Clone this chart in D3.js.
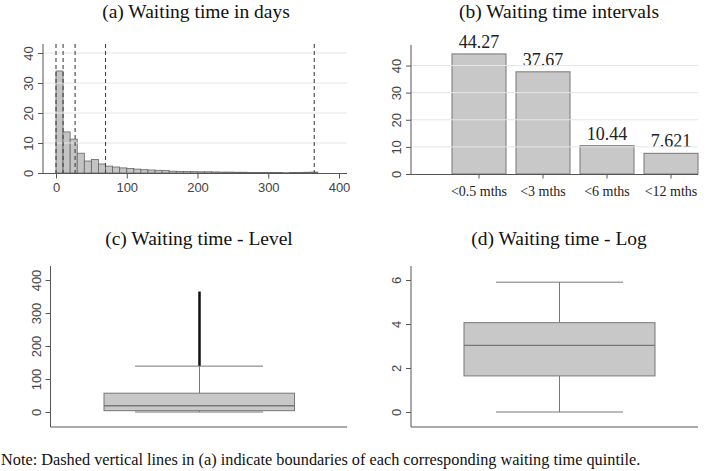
<!DOCTYPE html>
<html><head><meta charset="utf-8">
<script src="https://cdn.jsdelivr.net/npm/d3@7"></script>
<style>body{margin:0;background:#fff}svg{display:block}</style>
</head><body>
<svg id="c" width="709" height="471"></svg>
<script>
// ---- data ----
const histBinStart = [0,10,20,30,40,50,60,70,80,90,100,110,120,130,140,150,160,170,180,190,200,210,220,230,240,250,260,270,280,290,300,310,320,330,340,350,360];
const histPercent  = [34,13.7,11.3,6.6,4.0,4.5,3.0,2.3,2.0,1.7,1.5,1.3,1.1,1.0,0.9,0.8,0.6,0.55,0.5,0.45,0.4,0.4,0.35,0.3,0.3,0.25,0.25,0.2,0.2,0.2,0.15,0.15,0.1,0.15,0.2,0.25,0.3];
const binWidth = 10;
const quintileBounds = [0, 10, 27, 70, 365];
const histXTicks = [0,100,200,300,400];
const histYTicks = [0,10,20,30,40];

const intervalCats = ["<0.5 mths","<3 mths","<6 mths","<12 mths"];
const intervalVals = [44.27, 37.67, 10.44, 7.621];
const intervalLabels = ["44.27","37.67","10.44","7.621"];
const intervalYTicks = [0,10,20,30,40];

const levelBox = {min:0, q1:4, median:19, q3:57, max:139};
const levelOutlierRange = [140, 365];
const levelYTicks = [0,100,200,300,400];

const logBox = {min:0, q1:1.64, median:3.03, q3:4.06, max:5.9};
const logYTicks = [0,2,4,6];

// ---- drawing ----
const svg = d3.select("#c");
const serif = "'Liberation Serif','Times New Roman',serif";
const sans = "'Liberation Sans',Arial,sans-serif";
const axisCol = "#555";
const gridCol = "#e6e6e6";

function title(x, y, t){
  svg.append("text").attr("x",x).attr("y",y).attr("text-anchor","middle")
    .attr("font-family",serif).attr("font-size",19.5).attr("fill","#111").text(t);
}
function yAxis(g, y, ticks, x0){
  const ax = d3.axisLeft(y).tickValues(ticks).tickSize(5).tickSizeOuter(0).tickFormat(d3.format("d"));
  const a = g.append("g").attr("transform",`translate(${x0},0)`).call(ax);
  a.select(".domain").remove();
  a.selectAll("line").attr("stroke",axisCol);
  a.selectAll("text").attr("font-family",sans).attr("font-size",13).attr("fill","#444")
    .attr("transform","rotate(-90)").attr("text-anchor","middle")
    .attr("x", 0).attr("y", -10).attr("dy","0");
  return a;
}
function line(x1,y1,x2,y2,col,w,dash){
  const l = svg.append("line").attr("x1",x1).attr("y1",y1).attr("x2",x2).attr("y2",y2)
    .attr("stroke",col).attr("stroke-width",w||1);
  if(dash) l.attr("stroke-dasharray",dash);
  return l;
}

// (a) histogram
title(196, 18, "(a) Waiting time in days");
{
  const x = d3.scaleLinear().domain([0,400]).range([56,339]);
  const y = d3.scaleLinear().domain([0,40]).range([173,53]);
  const g = svg.append("g");
  histYTicks.filter(d=>d>0).forEach(d=> line(43, y(d), 347, y(d), gridCol, 1));
  g.selectAll("rect").data(histPercent).join("rect")
    .attr("x",(d,i)=>x(histBinStart[i])).attr("width",(d,i)=>x(histBinStart[i]+binWidth)-x(histBinStart[i]))
    .attr("y",d=>y(d)).attr("height",d=>y(0)-y(d))
    .attr("fill","#c4c4c4").attr("stroke","#666").attr("stroke-width",0.8);
  quintileBounds.forEach(q=> line(x(q), 44, x(q), 173, "#444", 1.1, "4,3"));
  line(43, 44, 43, 173, axisCol, 1);
  line(43, 173.5, 347, 173.5, axisCol, 1);
  yAxis(g, y, histYTicks, 43);
  const xa = g.append("g").attr("transform","translate(0,173.5)")
    .call(d3.axisBottom(x).tickValues(histXTicks).tickSize(5).tickSizeOuter(0));
  xa.select(".domain").remove();
  xa.selectAll("line").attr("stroke",axisCol);
  xa.selectAll("text").attr("font-family",sans).attr("font-size",13).attr("fill","#444").attr("y",9);
}

// (b) bar chart
title(559, 18, "(b) Waiting time intervals");
{
  const x = d3.scaleBand().domain(intervalCats).range([447,703]).paddingInner(0.156).paddingOuter(0.078);
  const y = d3.scaleLinear().domain([0,40]).range([174,65.5]);
  const g = svg.append("g");
  intervalYTicks.filter(d=>d>0).forEach(d=> line(411, y(d), 698, y(d), gridCol, 1));
  g.selectAll("rect").data(intervalVals).join("rect")
    .attr("x",(d,i)=>x(intervalCats[i])).attr("width",x.bandwidth())
    .attr("y",d=>y(d)).attr("height",d=>y(0)-y(d))
    .attr("fill","#c8c8c8").attr("stroke","#777").attr("stroke-width",1);
  g.selectAll("text.v").data(intervalVals).join("text").attr("class","v")
    .attr("x",(d,i)=>x(intervalCats[i])+x.bandwidth()/2).attr("y",d=>y(d)-6)
    .attr("text-anchor","middle").attr("font-family",serif).attr("font-size",18).attr("fill","#222")
    .text((d,i)=>intervalLabels[i]);
  line(411, 45, 411, 174, axisCol, 1);
  line(411, 174.5, 698, 174.5, axisCol, 1);
  yAxis(g, y, intervalYTicks, 411);
  const xa = g.append("g").attr("transform","translate(0,174.5)")
    .call(d3.axisBottom(x).tickSize(4).tickSizeOuter(0));
  xa.select(".domain").remove();
  xa.selectAll("line").attr("stroke",axisCol);
  xa.selectAll("text").attr("font-family",serif).attr("font-size",14).attr("fill","#222").attr("y",12);
}

function boxplot(b, y, cx, boxL, boxR, capL, capR){
  line(cx, y(b.q3), cx, y(b.max), "#777", 1);
  line(cx, y(b.q1), cx, y(b.min), "#777", 1);
  line(capL, y(b.max), capR, y(b.max), "#777", 1);
  line(capL, y(b.min), capR, y(b.min), "#777", 1);
  svg.append("rect").attr("x",boxL).attr("width",boxR-boxL)
    .attr("y",y(b.q3)).attr("height",y(b.q1)-y(b.q3))
    .attr("fill","#c8c8c8").attr("stroke","#777").attr("stroke-width",1);
  line(boxL, y(b.median), boxR, y(b.median), "#777", 1.3);
}

// (c) box level
title(199, 245, "(c) Waiting time - Level");
{
  const y = d3.scaleLinear().domain([0,400]).range([412,280]);
  const g = svg.append("g");
  boxplot(levelBox, y, 199.5, 104, 294.5, 135, 263);
  line(199.5, y(levelOutlierRange[0]), 199.5, y(levelOutlierRange[1]), "#111", 2.5);
  line(50.5, 266, 50.5, 427, axisCol, 1);
  line(50.5, 427, 347, 427, axisCol, 1);
  yAxis(g, y, levelYTicks, 50.5);
}

// (d) box log
title(559, 245, "(d) Waiting time - Log");
{
  const y = d3.scaleLinear().domain([0,6]).range([412,280]);
  const g = svg.append("g");
  boxplot(logBox, y, 559.5, 464, 655, 496, 623);
  line(411, 266, 411, 427, axisCol, 1);
  line(411, 427, 698, 427, axisCol, 1);
  yAxis(g, y, logYTicks, 411);
}

svg.append("text").attr("x",1).attr("y",465).attr("font-family",serif).attr("font-size",16.3).attr("fill","#111")
  .text("Note: Dashed vertical lines in (a) indicate boundaries of each corresponding waiting time quintile.");
</script>
</body></html>
